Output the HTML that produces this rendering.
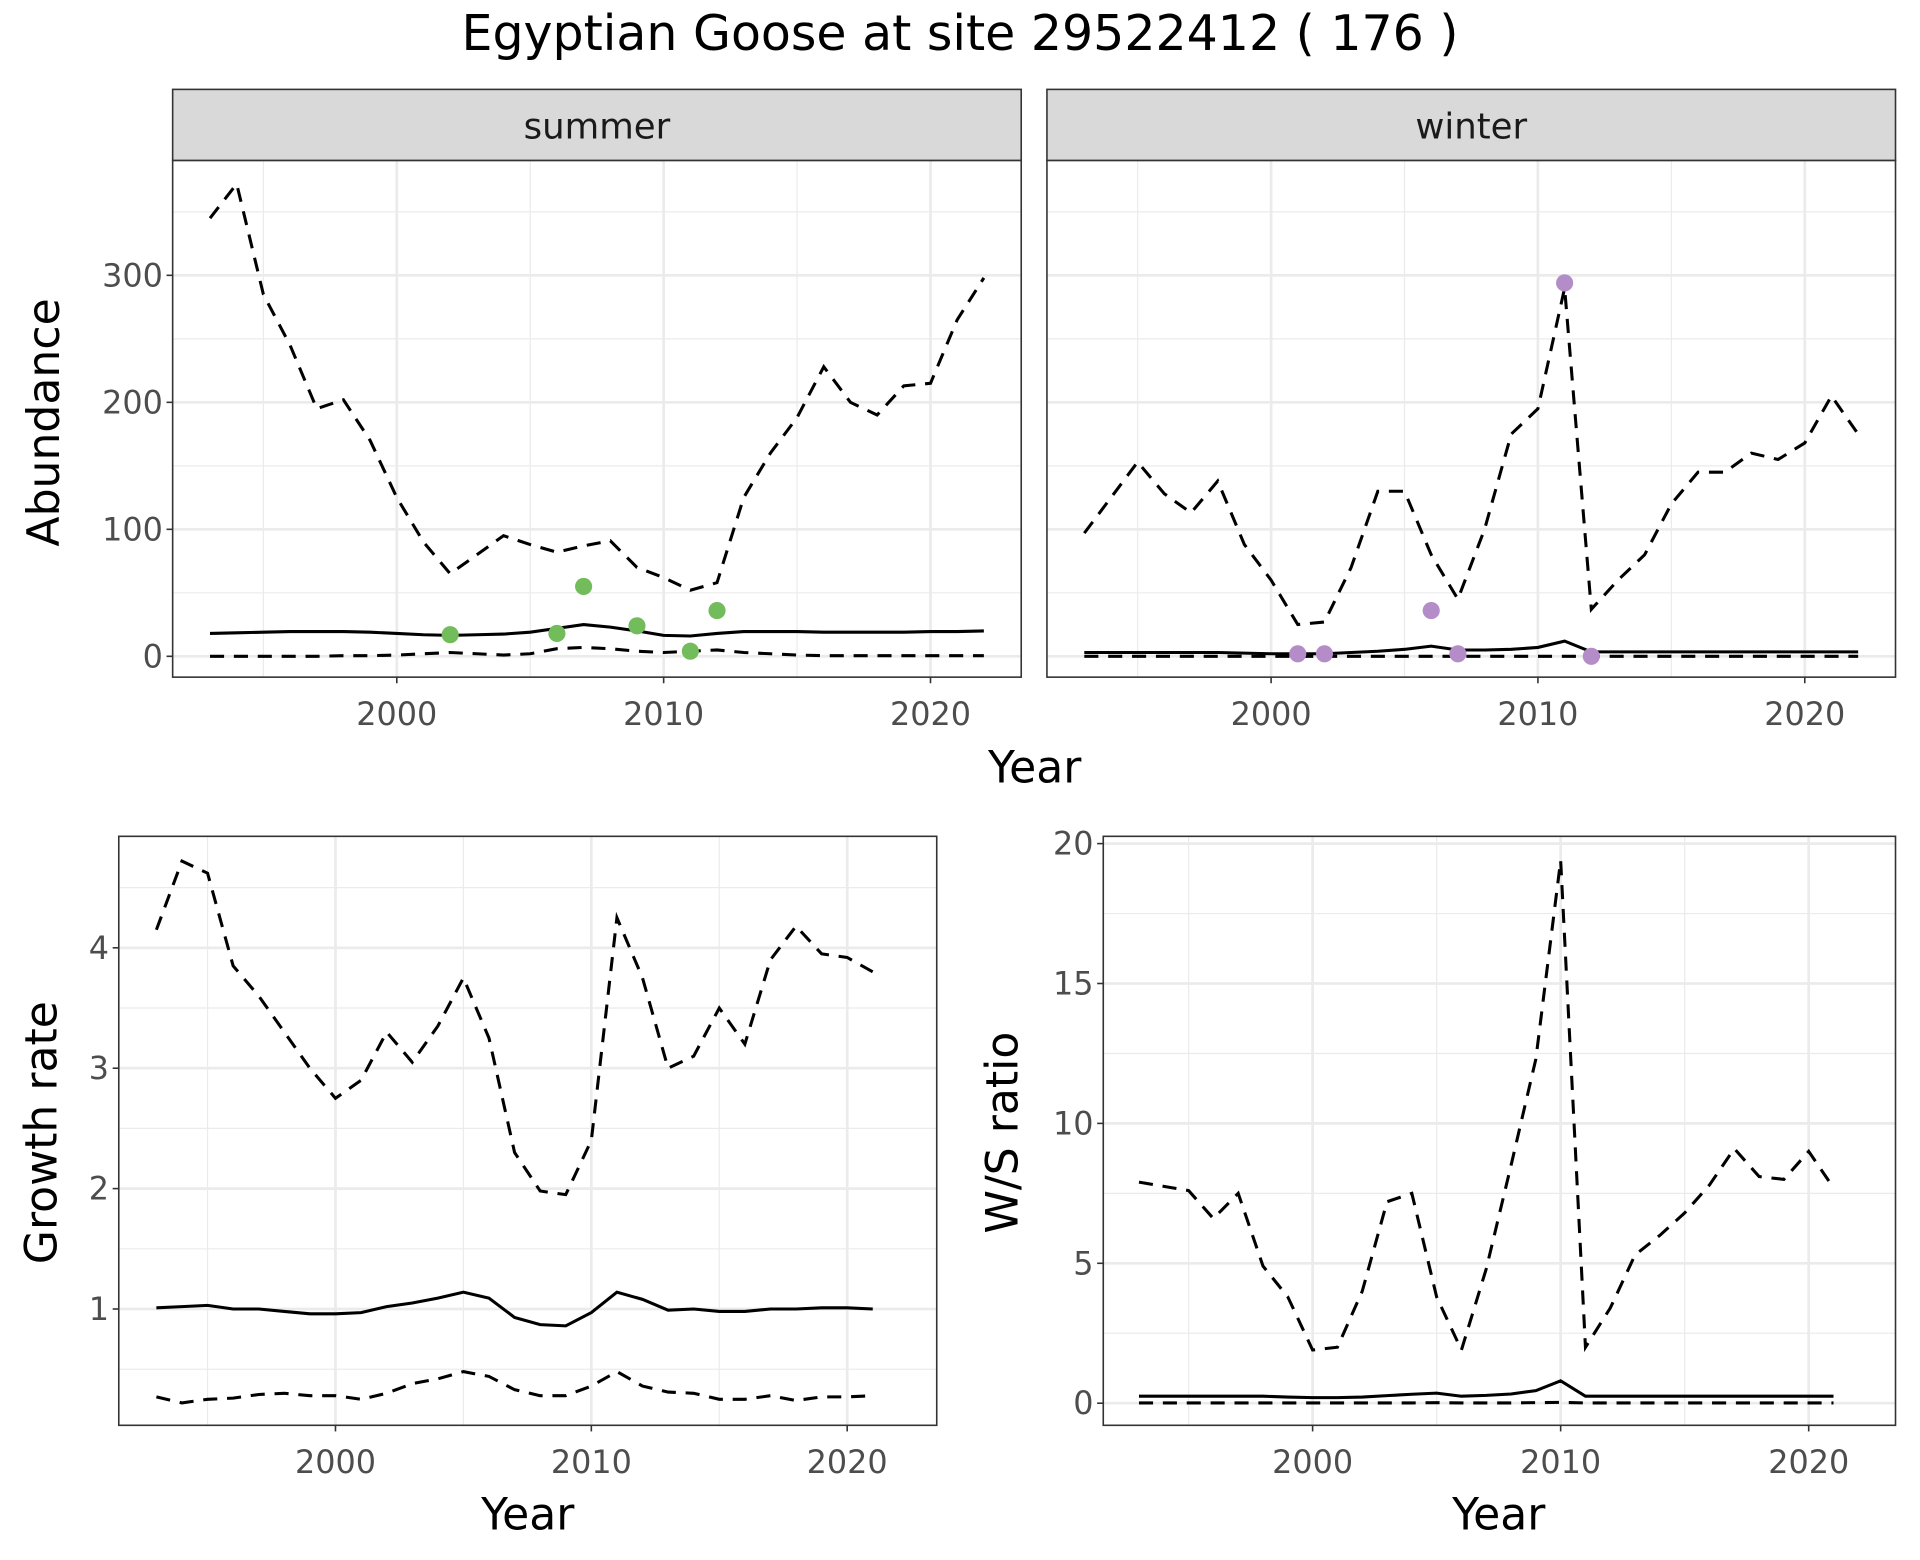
<!DOCTYPE html>
<html><head><meta charset="utf-8"><style>
html,body{margin:0;padding:0;background:#fff}
svg{display:block}
text{font-family:"DejaVu Sans","Liberation Sans",sans-serif}
</style></head><body>
<svg id="chart" width="1920" height="1560" viewBox="0 0 1568 1274" xmlns="http://www.w3.org/2000/svg">
<text x="784" y="41" font-size="40" text-anchor="middle" fill="#000">Egyptian Goose at site 29522412 ( 176 )</text>
</svg>
<script>
const yearsA = [1993,1994,1995,1996,1997,1998,1999,2000,2001,2002,2003,2004,2005,2006,2007,2008,2009,2010,2011,2012,2013,2014,2015,2016,2017,2018,2019,2020,2021,2022];
const summerUpper = [345,372,285,245,195,202,170,125,90,65,80,95,88,82,87,91,70,62,52,58,125,160,188,228,200,190,213,215,265,298];
const summerMean = [18,18.5,19,19.5,19.5,19.5,19,18,17,16.5,17,17.5,19,22,25,23,20,16.5,16,18,19.5,19.5,19.5,19,19,19,19,19.5,19.5,20];
const summerLower = [0,0,0,0,0,0.5,0.5,1,2,3,2,1,2,6,7,6,4,3,4,5,3,2,1,0.5,0.5,0.5,0.5,0.5,0.5,0.5];
const summerPtYears = [2002,2006,2007,2009,2011,2012];
const summerPtVals = [17,18,55,24,4,36];
const winterUpper = [97,125,153,128,113,138,88,60,25,27,70,130,130,80,45,100,175,195,290,37,60,80,120,145,145,160,155,168,205,175];
const winterMean = [3,3,3,3,3,3,2.5,2,2,2,3,4,5.5,8,5,5,5.5,7,12,3.5,3.5,3.5,3.5,3.5,3.5,3.5,3.5,3.5,3.5,3.5];
const winterLower = [0,0,0,0,0,0,0,0,0,0,0,0,0,0,0,0,0,0,0,0,0,0,0,0,0,0,0,0,0,0];
const winterPtYears = [2001,2002,2006,2007,2011,2012];
const winterPtVals = [2,2,36,2,294,0];
const yearsB = [1993,1994,1995,1996,1997,1998,1999,2000,2001,2002,2003,2004,2005,2006,2007,2008,2009,2010,2011,2012,2013,2014,2015,2016,2017,2018,2019,2020,2021];
const growthUpper = [4.15,4.72,4.62,3.85,3.6,3.3,3.0,2.75,2.9,3.3,3.05,3.35,3.75,3.25,2.3,1.98,1.95,2.4,4.25,3.75,3.0,3.1,3.5,3.2,3.9,4.18,3.95,3.92,3.8];
const growthMean = [1.01,1.02,1.03,1.0,1.0,0.98,0.96,0.96,0.97,1.02,1.05,1.09,1.14,1.09,0.93,0.87,0.86,0.97,1.14,1.08,0.99,1.0,0.98,0.98,1.0,1.0,1.01,1.01,1.0];
const growthLower = [0.27,0.22,0.25,0.26,0.29,0.3,0.28,0.28,0.25,0.3,0.38,0.42,0.48,0.44,0.33,0.28,0.28,0.36,0.48,0.36,0.31,0.3,0.25,0.25,0.28,0.24,0.27,0.27,0.28];
const ratioUpper = [7.9,7.75,7.6,6.6,7.5,4.9,3.8,1.9,2.0,4.0,7.2,7.5,3.8,1.9,4.8,8.5,12.3,19.4,2.0,3.4,5.3,6.0,6.8,7.8,9.1,8.1,8.0,9.0,7.7];
const ratioMean = [0.25,0.25,0.25,0.25,0.25,0.25,0.22,0.2,0.2,0.22,0.27,0.32,0.36,0.25,0.28,0.33,0.45,0.8,0.25,0.25,0.25,0.25,0.25,0.25,0.25,0.25,0.25,0.25,0.25];
const ratioLower = [0.01,0.01,0.01,0.01,0.01,0.01,0.01,0.01,0.01,0.01,0.01,0.01,0.02,0.01,0.01,0.01,0.02,0.03,0.01,0.01,0.01,0.01,0.01,0.01,0.01,0.01,0.01,0.01,0.01];
const xTicks = [2000,2010,2020];
const xMinor = [1995,2005,2015];
const abTicks = [0,100,200,300];
const abMinor = [50,150,250,350];
const grTicks = [1,2,3,4];
const grMinor = [0.5,1.5,2.5,3.5,4.5];
const wsTicks = [0,5,10,15,20];
const wsMinor = [2.5,7.5,12.5,17.5];

const svg = document.getElementById('chart');
const NS = 'http://www.w3.org/2000/svg';
function mk(tag, attrs, parent){
  const e = document.createElementNS(NS, tag);
  for (const k in attrs) e.setAttribute(k, attrs[k]);
  (parent||svg).appendChild(e);
  return e;
}
function panel(p){
  const g = mk('g', {});
  
  
  const sx = v => p.x0 + (v - p.xd[0]) / (p.xd[1] - p.xd[0]) * (p.x1 - p.x0);
  const sy = v => p.y1 - (v - p.yd[0]) / (p.yd[1] - p.yd[0]) * (p.y1 - p.y0);
  mk('rect', {x:p.x0, y:p.y0, width:p.x1-p.x0, height:p.y1-p.y0, fill:'#fff'}, g);
  p.yMinor.forEach(v => { const y = sy(v); if (y>p.y0&&y<p.y1) mk('line',{x1:p.x0,x2:p.x1,y1:y,y2:y,stroke:'#ebebeb','stroke-width':1},g); });
  xMinor.forEach(v => { const x = sx(v); mk('line',{x1:x,x2:x,y1:p.y0,y2:p.y1,stroke:'#ebebeb','stroke-width':1},g); });
  p.yTicks.forEach(v => { const y = sy(v); mk('line',{x1:p.x0,x2:p.x1,y1:y,y2:y,stroke:'#ebebeb','stroke-width':2.2},g); });
  xTicks.forEach(v => { const x = sx(v); mk('line',{x1:x,x2:x,y1:p.y0,y2:p.y1,stroke:'#ebebeb','stroke-width':2.2},g); });
  p.series.forEach(s => {
    const d = s.vals.map((v,i) => (i?'L':'M') + sx(s.years[i]).toFixed(2) + ',' + sy(v).toFixed(2)).join(' ');
    const path = mk('path', {d:d, fill:'none', stroke:'#000', 'stroke-width':2.5, 'stroke-dasharray': s.dash ? '11.5 8' : 'none'}, g);
    
    
  });
  if (p.pts) p.pts.years.forEach((yr,i) => {
    const c = mk('circle', {cx:sx(yr), cy:sy(p.pts.vals[i]), r:7, fill:p.pts.color}, g);
    
    
  });
  mk('rect', {x:p.x0, y:p.y0, width:p.x1-p.x0, height:p.y1-p.y0, fill:'none', stroke:'#333', 'stroke-width':1.3}, g);
  xTicks.forEach(v => {
    const x = sx(v);
    mk('line',{x1:x,x2:x,y1:p.y1,y2:p.y1+5,stroke:'#333','stroke-width':1.3},g);
    const t = mk('text',{x:x,y:p.y1+39,'font-size':26,'text-anchor':'middle',fill:'#4d4d4d'},g);
    t.textContent = v;
    
    
  });
  if (p.showY) p.yTicks.forEach(v => {
    const y = sy(v);
    mk('line',{x1:p.x0-5,x2:p.x0,y1:y,y2:y,stroke:'#333','stroke-width':1.3},g);
    const t = mk('text',{x:p.x0-8,y:y+9,'font-size':26,'text-anchor':'end',fill:'#4d4d4d'},g);
    t.textContent = v;
    
    
  });
  if (p.strip) {
    mk('rect',{x:p.x0,y:73,width:p.x1-p.x0,height:p.y0-73,fill:'#d9d9d9',stroke:'#333','stroke-width':1.3},g);
    const t = mk('text',{x:(p.x0+p.x1)/2,y:113,'font-size':29,'text-anchor':'middle',fill:'#1a1a1a'},g);
    t.textContent = p.strip;
    
    
  }
}
panel({name:'summer-panel', x0:141, x1:834, y0:131, y1:553, xd:[1991.6,2023.4], yd:[-16.4,390.5], yTicks:abTicks, yMinor:abMinor, showY:true, strip:'summer',
  series:[{name:'summer-upper',years:yearsA,vals:summerUpper,dash:true},{name:'summer-mean',years:yearsA,vals:summerMean,dash:false},{name:'summer-lower',years:yearsA,vals:summerLower,dash:true}],
  pts:{years:summerPtYears, vals:summerPtVals, color:'#72bc5c'}});
panel({name:'winter-panel', x0:855, x1:1548, y0:131, y1:553, xd:[1991.6,2023.4], yd:[-16.4,390.5], yTicks:abTicks, yMinor:abMinor, showY:false, strip:'winter',
  series:[{name:'winter-upper',years:yearsA,vals:winterUpper,dash:true},{name:'winter-mean',years:yearsA,vals:winterMean,dash:false},{name:'winter-lower',years:yearsA,vals:winterLower,dash:true}],
  pts:{years:winterPtYears, vals:winterPtVals, color:'#b48cc8'}});
panel({name:'growth-panel', x0:97, x1:765, y0:683, y1:1164, xd:[1991.53,2023.5], yd:[0.034,4.926], yTicks:grTicks, yMinor:grMinor, showY:true,
  series:[{name:'growth-upper',years:yearsB,vals:growthUpper,dash:true},{name:'growth-mean',years:yearsB,vals:growthMean,dash:false},{name:'growth-lower',years:yearsB,vals:growthLower,dash:true}]});
panel({name:'ratio-panel', x0:901, x1:1548, y0:683, y1:1164, xd:[1991.56,2023.5], yd:[-0.79,20.26], yTicks:wsTicks, yMinor:wsMinor, showY:true,
  series:[{name:'ratio-upper',years:yearsB,vals:ratioUpper,dash:true},{name:'ratio-mean',years:yearsB,vals:ratioMean,dash:false},{name:'ratio-lower',years:yearsB,vals:ratioLower,dash:true}]});
</script>
<svg style="position:absolute;left:0;top:0" width="1920" height="1560" viewBox="0 0 1568 1274" xmlns="http://www.w3.org/2000/svg">
<text x="845" y="639" font-size="36" text-anchor="middle" font-family="DejaVu Sans, sans-serif">Year</text>
<text transform="translate(48,345) rotate(-90)" font-size="36" text-anchor="middle" font-family="DejaVu Sans, sans-serif">Abundance</text>
<text x="431" y="1249" font-size="36" text-anchor="middle" font-family="DejaVu Sans, sans-serif">Year</text>
<text transform="translate(46,925) rotate(-90)" font-size="36" text-anchor="middle" font-family="DejaVu Sans, sans-serif">Growth rate</text>
<text x="1224" y="1249" font-size="36" text-anchor="middle" font-family="DejaVu Sans, sans-serif">Year</text>
<text transform="translate(831,925) rotate(-90)" font-size="36" text-anchor="middle" font-family="DejaVu Sans, sans-serif">W/S ratio</text>
</svg>
</body></html>
